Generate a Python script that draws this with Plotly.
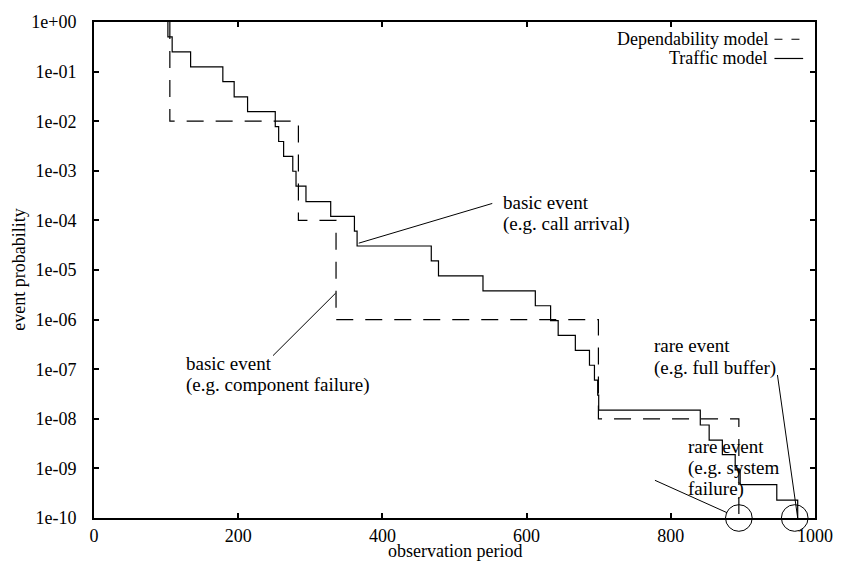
import plotly.graph_objects as go

# ---- data ----
# Dependability model: x positions where the probability drops, and the level reached
dep_x = [105.2, 105.2, 283.5, 335.7, 699.6, 894.4]
dep_p = [1.0, 1e-2, 1e-4, 1e-6, 1e-8, 1e-10]

# Traffic model: x positions where each step starts, and the level of that step
traf_x = [102.5, 102.5, 108.4, 134.0, 178.7, 194.4, 213.0, 251.4, 256.1, 263.0,
          275.7, 280.2, 294.0, 328.3, 361.2, 364.9, 467.8, 477.8, 539.5, 612.1,
          633.3, 643.8, 667.6, 687.2, 694.1, 698.6, 700.0, 840.9, 853.2, 871.5,
          889.3, 896.2, 947.0, 976.0]
traf_p = [1.0, 5.0e-1, 2.5e-1, 1.25e-1, 6.25e-2, 3.1e-2, 1.56e-2, 7.8e-3, 3.9e-3, 1.95e-3,
          9.8e-4, 4.9e-4, 2.4e-4, 1.2e-4, 6.1e-5, 3.05e-5, 1.53e-5, 7.6e-6, 3.8e-6, 1.9e-6,
          9.5e-7, 4.8e-7, 2.4e-7, 1.2e-7, 6.0e-8, 3.0e-8, 1.5e-8, 7.5e-9, 3.7e-9, 1.9e-9,
          9.3e-10, 4.7e-10, 2.3e-10, 1e-10]

x_ticks = [0, 200, 400, 600, 800, 1000]
y_tickvals = [1, 1e-1, 1e-2, 1e-3, 1e-4, 1e-5, 1e-6, 1e-7, 1e-8, 1e-9, 1e-10]
y_ticktext = ["1e+00", "1e-01", "1e-02", "1e-03", "1e-04", "1e-05",
              "1e-06", "1e-07", "1e-08", "1e-09", "1e-10"]

legend_names = ["Dependability model", "Traffic model"]

FONT = "Liberation Serif"
FS = 19

fig = go.Figure()
fig.add_trace(go.Scatter(x=dep_x, y=dep_p, mode="lines", line_shape="hv",
                         name=legend_names[0],
                         line=dict(color="black", width=1.2, dash="17px,12px")))
fig.add_trace(go.Scatter(x=traf_x, y=traf_p, mode="lines", line_shape="hv",
                         name=legend_names[1],
                         line=dict(color="black", width=1.2)))

# pixel geometry of the plot area (for paper-coordinate decorations)
L, R, T, B = 94, 823, 15, 518
W, H = 845, 567


def px(xp):
    return (xp - L) / (R - L)


def py(yp):
    return (B - yp) / (B - T)


shapes = []
annotations = []

# pointer lines (data coordinates)
pointer_lines = [
    ((367.2, 10 ** -4.459), (552.4, 10 ** -3.658)),
    ((335.1, 10 ** -5.467), (248.3, 10 ** -6.726)),
    ((947.9, 10 ** -7.117), (976.0, 1e-10)),
    ((778.0, 10 ** -9.24), (878.3, 10 ** -9.895)),
]
for (x0, y0), (x1, y1) in pointer_lines:
    shapes.append(dict(type="line", xref="x", yref="y", x0=x0, y0=y0, x1=x1, y1=y1,
                       line=dict(color="black", width=1)))

# circles around the rare events (pixel centres on the bottom axis)
for cxp in [746.0, 802.5]:
    r = 13.5
    shapes.append(dict(type="circle", xref="paper", yref="paper",
                       x0=px(cxp - r), x1=px(cxp + r), y0=py(B + r), y1=py(B - r),
                       line=dict(color="black", width=1)))

# annotation texts (left aligned, one entry per text line)
text_lines = [
    ("basic event", 506, 198), ("(e.g. call arrival)", 506, 220),
    ("basic event", 185, 361), ("(e.g. component failure)", 185, 383),
    ("rare event", 658, 343), ("(e.g. full buffer)", 658, 366),
    ("rare event", 693, 445), ("(e.g. system", 693, 467), ("failure)", 693, 489),
]
for t, xp_, yp_ in text_lines:
    annotations.append(dict(text=t, xref="paper", yref="paper", x=px(xp_), y=py(yp_),
                            xanchor="left", yanchor="middle", align="left", showarrow=False,
                            font=dict(family=FONT, size=FS, color="black")))

# manual legend: text right-aligned, sample to the right
leg_rows = [(legend_names[0], 32.5, "8px,9px"), (legend_names[1], 52.0, "solid")]
for name, yp_, dash in leg_rows:
    annotations.append(dict(text=name, xref="paper", yref="paper", x=px(777), y=py(yp_),
                            xanchor="right", yanchor="middle", showarrow=False,
                            font=dict(family=FONT, size=18, color="black")))
    shapes.append(dict(type="line", xref="paper", yref="paper", x0=px(782), x1=px(811),
                       y0=py(yp_), y1=py(yp_), line=dict(color="black", width=1.2, dash=dash)))

# axis titles
annotations.append(dict(text="observation period", xref="paper", yref="paper",
                        x=0.5, y=py(551), xanchor="center", yanchor="middle", showarrow=False,
                        font=dict(family=FONT, size=18, color="black")))
annotations.append(dict(text="event probability", xref="paper", yref="paper",
                        x=px(18), y=0.5, xanchor="center", yanchor="middle", showarrow=False,
                        textangle=-90, font=dict(family=FONT, size=18, color="black")))

axis_common = dict(showline=True, linecolor="black", linewidth=2, mirror="allticks",
                   ticks="inside", ticklen=5, tickwidth=1.5, tickcolor="black",
                   showgrid=False, zeroline=False,
                   tickfont=dict(family=FONT, size=18, color="black"))

fig.update_layout(
    width=W, height=H,
    margin=dict(l=L, r=W - R, t=T, b=H - B),
    paper_bgcolor="white", plot_bgcolor="white",
    showlegend=False,
    font=dict(family=FONT, size=FS, color="black"),
    xaxis=dict(range=[0, 1000], tickvals=x_ticks, ticklabelstandoff=0, **axis_common),
    yaxis=dict(type="log", range=[-10, 0], tickvals=y_tickvals, ticktext=y_ticktext,
               ticklabelstandoff=12, **axis_common),
    shapes=shapes,
    annotations=annotations,
)

fig.write_html("out.html")
